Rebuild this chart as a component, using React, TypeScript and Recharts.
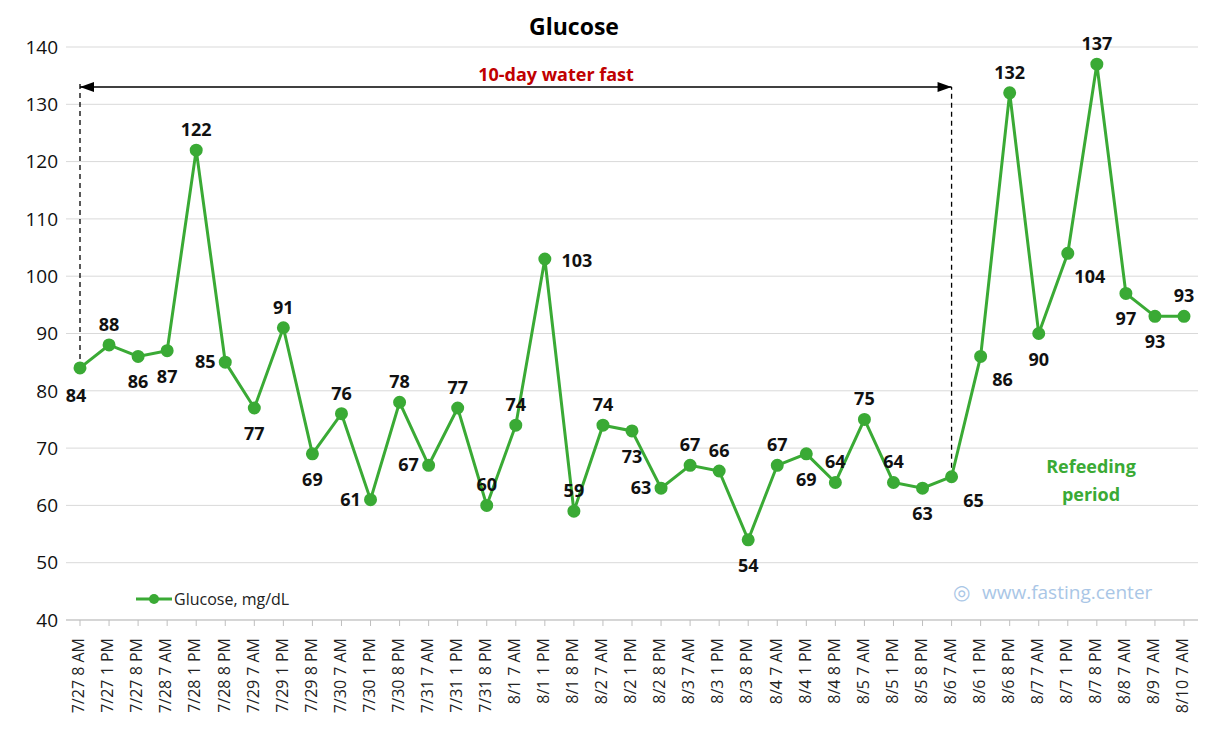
import {
  LineChart, Line, XAxis, YAxis, CartesianGrid, LabelList, ReferenceLine,
} from 'recharts';

const times = [
  '7/27 8 AM', '7/27 1 PM', '7/27 8 PM', '7/28 7 AM', '7/28 1 PM', '7/28 8 PM',
  '7/29 7 AM', '7/29 1 PM', '7/29 8 PM', '7/30 7 AM', '7/30 1 PM', '7/30 8 PM',
  '7/31 7 AM', '7/31 1 PM', '7/31 8 PM', '8/1 7 AM', '8/1 1 PM', '8/1 8 PM',
  '8/2 7 AM', '8/2 1 PM', '8/2 8 PM', '8/3 7 AM', '8/3 1 PM', '8/3 8 PM',
  '8/4 7 AM', '8/4 1 PM', '8/4 8 PM', '8/5 7 AM', '8/5 1 PM', '8/5 8 PM',
  '8/6 7 AM', '8/6 1 PM', '8/6 8 PM', '8/7 7 AM', '8/7 1 PM', '8/7 8 PM',
  '8/8 7 AM', '8/9 7 AM', '8/10 7 AM',
];
const glucose = [
  84, 88, 86, 87, 122, 85, 77, 91, 69, 76, 61, 78, 67, 77, 60, 74, 103, 59,
  74, 73, 63, 67, 66, 54, 67, 69, 64, 75, 64, 63, 65, 86, 132, 90, 104, 137, 97, 93, 93,
];
// where each value label sits: t = above, b = below, l = left, r = right, br = below right
const labelPos = [
  'b', 't', 'b', 'b', 't', 'l', 'b', 't', 'b', 't', 'l', 't', 'l', 't', 't', 't', 'r', 't',
  't', 'b', 'l', 't', 't', 'b', 't', 'b', 't', 't', 't', 'b', 'br', 'br', 't', 'b', 'br', 't', 'b', 'b', 't',
];
const yTicks = [40, 50, 60, 70, 80, 90, 100, 110, 120, 130, 140];

const data = times.map((t, i) => ({ t, v: glucose[i] }));
const GREEN = '#3AAA35';
const FONT = '"Open Sans", "Liberation Sans", Arial, sans-serif';

const ValueLabel = (p: any) => {
  const { x, y, value, index } = p;
  const pos = labelPos[index];
  let dx = 0, dy = -14;
  if (pos === 'b') dy = 32;
  if (pos === 'l') { dx = -20; dy = 6; }
  if (pos === 'r') { dx = 32; dy = 8; }
  if (pos === 'br') { dx = 22; dy = 30; }
  if (index === 0) { dx = -4; dy = 34; }
  return (
    <text x={x + dx} y={y + dy} textAnchor="middle" fontSize={18} fontWeight="bold" fill="#111" fontFamily={FONT}>
      {value}
    </text>
  );
};

const XTick = (p: any) => {
  const { x, y, payload } = p;
  return (
    <text x={x} y={y + 10} transform={`rotate(-90 ${x} ${y + 10})`} textAnchor="end" dominantBaseline="middle" fontSize={16} fill="#222" fontFamily={FONT}>
      {payload.value}
    </text>
  );
};

const Arrow = (p: any) => {
  const { x1, y1, x2, y2 } = p;
  return (
    <g>
      <line x1={x1} y1={y1} x2={x2} y2={y2} stroke="#000" strokeWidth={1.5} />
      <path d={`M${x1},${y1} l14,-5 l0,10 z`} fill="#000" />
      <path d={`M${x2},${y2} l-14,-5 l0,10 z`} fill="#000" />
    </g>
  );
};

export default function App() {
  return (
    <div style={{ position: 'relative', width: 1215, height: 726, fontFamily: FONT }}>
      <LineChart width={1215} height={726} data={data} margin={{ top: 39, right: 25, left: 18, bottom: 14 }}>
        <CartesianGrid vertical={false} stroke="#d9d9d9" />
        <XAxis dataKey="t" interval={0} height={100} tick={<XTick />} stroke="#bfbfbf"
          tickLine={{ stroke: '#bfbfbf' }} padding={{ left: 14, right: 14 }} />
        <YAxis domain={[40, 140]} ticks={yTicks} width={40} axisLine={false} tickLine={false}
          tick={{ fill: '#111', fontSize: 19, fontFamily: FONT }} />
        <ReferenceLine segment={[{ x: times[0], y: 84 }, { x: times[0], y: 134 }]} stroke="#000" strokeDasharray="5 4" strokeWidth={1.3} />
        <ReferenceLine segment={[{ x: times[30], y: 65 }, { x: times[30], y: 133 }]} stroke="#000" strokeDasharray="5 4" strokeWidth={1.3} />
        <ReferenceLine segment={[{ x: times[0], y: 133 }, { x: times[30], y: 133 }]} shape={<Arrow />} />
        <Line dataKey="v" name="Glucose, mg/dL" stroke={GREEN} strokeWidth={3}
          dot={{ r: 5, fill: GREEN, stroke: GREEN }} isAnimationActive={false}>
          <LabelList dataKey="v" content={<ValueLabel />} />
        </Line>
      </LineChart>
      <div style={{ position: 'absolute', left: 128, top: 580, display: 'flex', alignItems: 'center', fontSize: 16, color: '#222' }}>
        <svg width={36} height={14}><line x1={0} y1={7} x2={36} y2={7} stroke={GREEN} strokeWidth={3} /><circle cx={18} cy={7} r={5} fill={GREEN} /></svg>
        <span style={{ marginLeft: 2 }}>Glucose, mg/dL</span>
      </div>
      <div style={{ position: 'absolute', left: 0, top: 2, width: 1132, textAlign: 'center', fontWeight: 'bold', fontSize: 23, color: '#000' }}>Glucose</div>
      <div style={{ position: 'absolute', left: 418, top: 54, width: 260, textAlign: 'center', fontWeight: 'bold', fontSize: 18, color: '#C00000' }}>10-day water fast</div>
      <div style={{ position: 'absolute', left: 1008, top: 444, width: 150, textAlign: 'center', fontWeight: 'bold', fontSize: 18, lineHeight: '28px', color: GREEN }}>Refeeding<br />period</div>
      <div style={{ position: 'absolute', left: 945, top: 570, fontSize: 19, color: '#a9c6e6' }}>
        <span style={{ fontSize: 20, marginRight: 12 }}>◎</span>www.fasting.center
      </div>
    </div>
  );
}
